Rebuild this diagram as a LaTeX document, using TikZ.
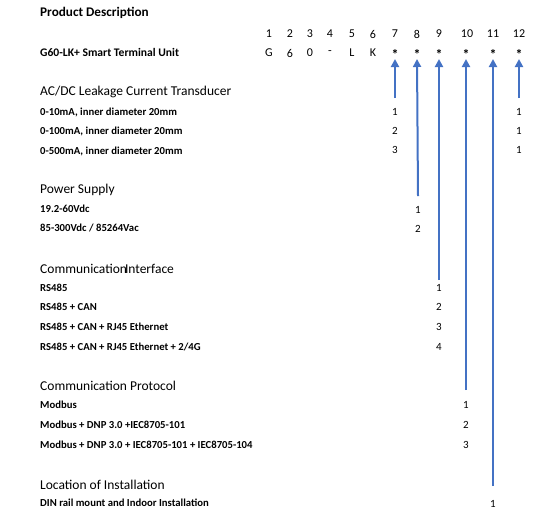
\documentclass[tikz,border=0pt]{standalone}
\usepackage{fontspec}
\setmainfont{Carlito}
\usetikzlibrary{arrows.meta}
\definecolor{arrblue}{HTML}{4472C4}
\tikzset{
  ptitle/.style={anchor=west,inner sep=0pt,font=\fontsize{13.2}{15}\selectfont\bfseries},
  title/.style={anchor=west,inner sep=0pt,font=\fontsize{13.5}{15}\selectfont},
  item/.style={anchor=west,inner sep=0pt,font=\fontsize{10.7}{12}\selectfont\bfseries},
  hdr/.style={inner sep=0pt,font=\fontsize{12}{14}\selectfont},
  star/.style={inner sep=0pt,font=\fontsize{14}{16}\selectfont\bfseries},
  opt/.style={inner sep=0pt,font=\fontsize{11}{13}\selectfont},
  arr/.style={draw=arrblue,line width=2pt,-{Triangle[length=8pt,width=8pt]}},
}
\begin{document}
\begin{tikzpicture}[x=1pt,y=-1pt]
\useasboundingbox (0,0) rectangle (553,523);
% headings
\node[ptitle] (pd) at (40,13) {Product Description};
\node[ptitle,font=\fontsize{11.6}{13}\selectfont\bfseries] (unit) at (40,52) {G60-LK+ Smart Terminal Unit};
% position numbers
\foreach \n/\x in {1/269,2/290,3/310,4/330,5/352,6/373,7/395,8/417,9/439,10/467,11/493,12/519}
  \node[hdr] (n\n) at (\x,34) {\n};
\node[hdr] (c1) at (269,53) {G};
\node[hdr] (c2) at (290,53) {6};
\node[hdr] (c3) at (310,53) {0};
\node[hdr] (c4) at (330,53) {-};
\node[hdr] (c5) at (352,53) {L};
\node[hdr] (c6) at (373,53) {K};
\foreach \n/\x in {7/395,8/417,9/439,10/466,11/493,12/519}
  \node[star] (s\n) at (\x,54) {*};
% tips
\foreach \n/\x in {7/395,8/417,9/439,10/466,11/493,12/519}
  \coordinate (t\n) at (\x,59);
% bottoms
\coordinate (b7) at (395,98);
\coordinate (b12) at (519,98);
\coordinate (b8) at (418,196);
\coordinate (b9) at (439,280);
\coordinate (b10) at (466,390);
\coordinate (b11) at (493,486);
\foreach \n in {7,8,9,10,11,12}
  \draw[arr] (b\n) -- (t\n);
% AC/DC
\node[title] (h1) at (40,92) {AC/DC Leakage Current Transducer};
\node[item] (a1) at (40,112) {0-10mA, inner diameter 20mm};
\node[item] (a2) at (40,131) {0-100mA, inner diameter 20mm};
\node[item] (a3) at (40,151) {0-500mA, inner diameter 20mm};
\node[opt] (a1o) at (395,112) {1};
\node[opt] (a2o) at (395,131) {2};
\node[opt] (a3o) at (395,150) {3};
\node[opt] (a1p) at (519,112) {1};
\node[opt] (a2p) at (519,131) {1};
\node[opt] (a3p) at (519,150) {1};
% Power
\node[title] (h2) at (40,190) {Power Supply};
\node[item] (p1) at (40,209) {19.2-60Vdc};
\node[item] (p2) at (40,228) {85-300Vdc / 85264Vac};
\node[opt] (p1o) at (418,210) {1};
\node[opt] (p2o) at (418,229) {2};
% Interface
\node[title] (h3) at (40,269) {Communication\kern-2pt Interface};
\node[item] (i1) at (40,288) {RS485};
\node[item] (i2) at (40,307) {RS485 + CAN};
\node[item] (i3) at (40,327) {RS485 + CAN + RJ45 Ethernet};
\node[item] (i4) at (40,347) {RS485 + CAN + RJ45 Ethernet + 2/4G};
\node[opt] (i1o) at (439,288) {1};
\node[opt] (i2o) at (439,307) {2};
\node[opt] (i3o) at (439,327) {3};
\node[opt] (i4o) at (439,347) {4};
% Protocol
\node[title] (h4) at (40,386) {Communication Protocol};
\node[item] (r1) at (40,405) {Modbus};
\node[item] (r2) at (40,425) {Modbus + DNP 3.0 +IEC8705-101};
\node[item] (r3) at (40,445) {Modbus + DNP 3.0 + IEC8705-101 + IEC8705-104};
\node[opt] (r1o) at (466,405) {1};
\node[opt] (r2o) at (466,425) {2};
\node[opt] (r3o) at (466,445) {3};
% Location
\node[title] (h5) at (40,485) {Location of Installation};
\node[item] (l1) at (40,503) {DIN rail mount and Indoor Installation};
\node[opt] (l1o) at (493,504) {1};
\end{tikzpicture}
\end{document}
